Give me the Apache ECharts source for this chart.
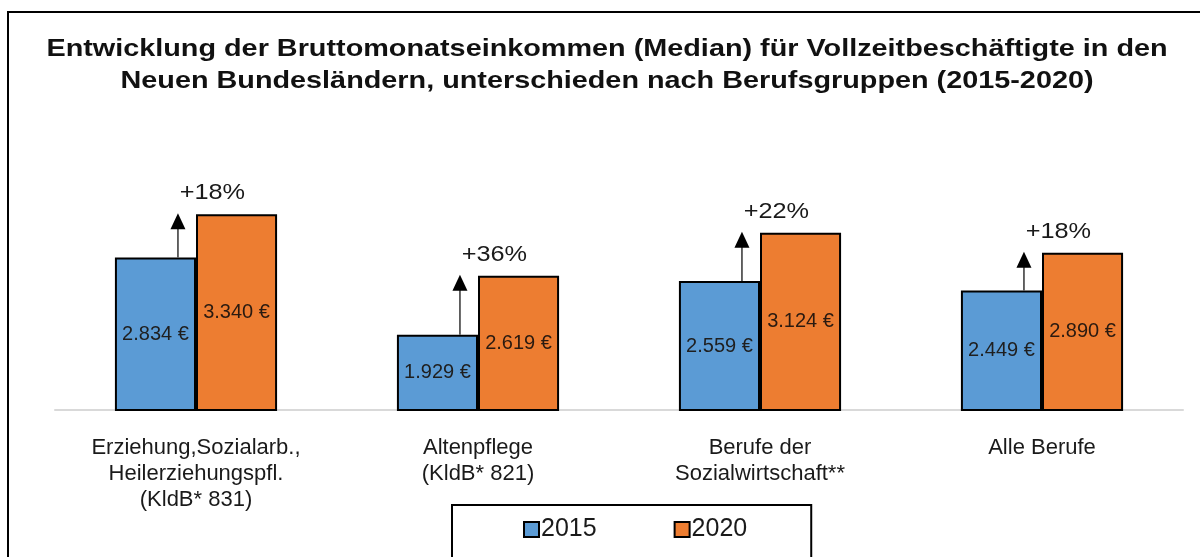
<!DOCTYPE html>
<html>
<head>
<meta charset="utf-8">
<script src="https://cdn.jsdelivr.net/npm/echarts@6/dist/echarts.min.js"></script>
<style>
html,body{margin:0;padding:0;background:#fff;}
#main{width:1200px;height:557px;}
</style>
</head>
<body>
<div id="main"></div>
<script>
var categories=['Erziehung,Sozialarb.,\nHeilerziehungspfl.\n(KldB* 831)','Altenpflege\n(KldB* 821)','Berufe der\nSozialwirtschaft**','Alle Berufe'];
var v2015=[2834,1929,2559,2449];
var v2020=[3340,2619,3124,2890];
var growth=['+18%','+36%','+22%','+18%'];
var titleText='Entwicklung der Bruttomonatseinkommen (Median) für Vollzeitbeschäftigte in den\nNeuen Bundesländern, unterschieden nach Berufsgruppen (2015-2020)';

function euro(v){
	return String(v).replace(/\B(?=(\d{3})+(?!\d))/g,'.')+' €';
}

var arrowData=[];
for(var i=0;i<categories.length;i++){
	arrowData.push([i,v2015[i],v2020[i],growth[i]]);
}

var myChart=echarts.init(document.getElementById('main'));
var font='"Liberation Sans", Arial, sans-serif';

option={
	animation:false,
	textStyle:{fontFamily:font},
	graphic:[{
		type:'rect',
		shape:{x:8,y:12,width:1220,height:600},
		style:{fill:'none',stroke:'#000',lineWidth:2}
	},{
		// Titel, breit laufend wie im Original
		type:'text',
		x:607,
		y:33,
		scaleX:1.2,
		style:{
			text:titleText,
			font:'bold 24px '+font,
			fill:'#111',
			align:'center',
			verticalAlign:'top',
			lineHeight:32
		}
	}],
	legend:{
		data:['2015','2020'],
		left:452,
		top:505,
		padding:[12,64,30,71],
		borderColor:'#000',
		borderWidth:2,
		itemWidth:15,
		itemHeight:15,
		itemGap:77,
		icon:'rect',
		textStyle:{fontFamily:font,fontSize:25,color:'#1a1a1a',padding:[0,0,0,-3]}
	},
	grid:{left:55,right:17,top:115,bottom:147},
	xAxis:[{
		type:'category',
		data:categories,
		axisTick:{show:false},
		axisLine:{lineStyle:{color:'#d9d9d9',width:2}},
		axisLabel:{
			margin:25,
			fontFamily:font,
			fontSize:22,
			lineHeight:26,
			color:'#1a1a1a',
			interval:0
		}
	}],
	yAxis:[{
		type:'value',
		min:1050,
		max:4500,
		show:false,
		splitLine:{show:false}
	}],
	series:[]
};

option.series.push({
	name:'2015',
	type:'bar',
	data:v2015,
	barGap:'0%',
	barCategoryGap:'42.5%',
	itemStyle:{color:'#5B9BD5',borderColor:'#000',borderWidth:2},
	label:{show:true,position:'inside',fontSize:20,fontFamily:font,color:'#1f1f1f',formatter:function(p){return euro(p.value);}}
});
option.series.push({
	name:'2020',
	type:'bar',
	data:v2020,
	itemStyle:{color:'#ED7D31',borderColor:'#000',borderWidth:2},
	label:{show:true,position:'inside',fontSize:20,fontFamily:font,color:'#2a1a10',formatter:function(p){return euro(p.value);}}
});
// Pfeile mit Zuwachs in Prozent
option.series.push({
	name:'growth',
	type:'custom',
	data:arrowData,
	z:10,
	clip:false,
	silent:true,
	encode:{x:0,y:[1,2]},
	renderItem:function(params,api){
		var p1=api.coord([api.value(0),api.value(1)]);
		var p2=api.coord([api.value(0),api.value(2)]);
		var band=api.size([1,0])[0];
		var x=p1[0]-band*0.064;
		var tip=p2[1]-1;
		return {
			type:'group',
			children:[
				{type:'line',shape:{x1:x,y1:p1[1],x2:x,y2:tip+14},style:{stroke:'#333',lineWidth:1.5}},
				{type:'polygon',shape:{points:[[x-7.5,tip+16],[x+7.5,tip+16],[x,tip]]},style:{fill:'#000'}},
				{type:'text',x:p1[0]+band*0.058,y:p2[1]-21,scaleX:1.15,style:{text:arrowData[params.dataIndex][3],fontFamily:font,fontSize:22,fill:'#1a1a1a',align:'center',verticalAlign:'middle'}}
			]
		};
	}
});

myChart.setOption(option);
window.onresize=myChart.resize;
</script>
</body>
</html>
